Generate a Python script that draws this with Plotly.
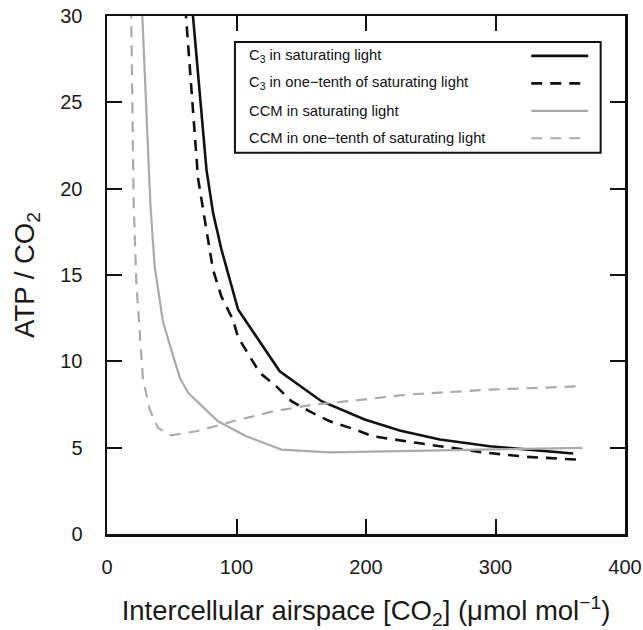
import plotly.graph_objects as go

# ---- data ----
c3_sat_x = [65.8, 76.8, 81.9, 88.3, 101.2, 133.4, 165.6, 199, 226, 257, 295.5, 334, 360]
c3_sat_y = [30.5, 21.1, 18.6, 16.5, 13.0, 9.42, 7.69, 6.63, 6.0, 5.47, 5.08, 4.85, 4.66]

c3_low_x = [60.5, 70.3, 76.8, 81.9, 88.3, 97.3, 101.2, 118, 130.8, 142.4, 156.5, 172, 190,
            205.4, 238.9, 264.6, 290.3, 323.9, 362.5]
c3_low_y = [30.5, 20.6, 17.6, 15.3, 13.76, 12.4, 11.4, 9.33, 8.55, 7.69, 7.1, 6.53, 6.09,
            5.66, 5.28, 4.99, 4.73, 4.47, 4.31]

ccm_sat_x = [27.0, 33.5, 36.8, 43.2, 51.5, 56.5, 63.0, 85.7, 107.6, 134.7, 172, 282.6, 367]
ccm_sat_y = [30.5, 19.1, 15.5, 12.3, 10.2, 9.0, 8.15, 6.53, 5.66, 4.89, 4.73, 4.89, 4.99]

ccm_low_x = [18.6, 20.6, 22.7, 25.3, 27.8, 29.1, 33, 39.4, 49.7, 69, 97.3, 128.2, 159,
             192.6, 231, 295.5, 362.5]
ccm_low_y = [30.5, 19.1, 14.5, 11.6, 8.94, 8.55, 7.2, 6.14, 5.72, 5.95, 6.53, 7.1, 7.49,
             7.74, 8.07, 8.36, 8.55]

x_ticks = [0, 100, 200, 300, 400]
y_ticks = [0, 5, 10, 15, 20, 25, 30]

labels = [
    "C<sub>3</sub> in saturating light",
    "C<sub>3</sub> in one\u2212tenth of saturating light",
    "CCM in saturating light",
    "CCM in one\u2212tenth of saturating light",
]

BLACK = "#111111"
GREY = "#aaaaaa"
FONT = "Liberation Sans, Arial, sans-serif"

styles = [
    dict(color=BLACK, width=2.6, dash="solid"),
    dict(color=BLACK, width=2.6, dash="11px,8px"),
    dict(color=GREY, width=2.2, dash="solid"),
    dict(color=GREY, width=2.2, dash="11px,8px"),
]

series = [
    (c3_sat_x, c3_sat_y),
    (c3_low_x, c3_low_y),
    (ccm_sat_x, ccm_sat_y),
    (ccm_low_x, ccm_low_y),
]

fig = go.Figure()
for (xs, ys), name, st in zip(series, labels, styles):
    fig.add_trace(go.Scatter(x=xs, y=ys, mode="lines", name=name, line=st,
                             showlegend=False, hoverinfo="skip"))

# ---- manual legend box (text left, line sample right) ----
box_x0, box_x1 = 0.247, 0.953
box_y0, box_y1 = 0.736, 0.950
row_y = [0.923, 0.870, 0.817, 0.764]
text_x = 0.270
samp_x0, samp_x1 = 0.819, 0.929

shapes = [dict(type="rect", xref="paper", yref="paper", x0=box_x0, x1=box_x1,
               y0=box_y0, y1=box_y1, line=dict(color=BLACK, width=2),
               fillcolor="white", layer="above")]
annotations = []
for ry, name, st in zip(row_y, labels, styles):
    shapes.append(dict(type="line", xref="paper", yref="paper", x0=samp_x0, x1=samp_x1,
                       y0=ry, y1=ry, line=st, layer="above"))
    annotations.append(dict(xref="paper", yref="paper", x=text_x, y=ry, text=name,
                            showarrow=False, xanchor="left", yanchor="middle",
                            font=dict(family=FONT, size=14.8, color=BLACK)))

axis_common = dict(
    automargin=False,
    showgrid=False, zeroline=False, showline=True, linecolor=BLACK, linewidth=2.5,
    mirror="ticks", ticks="inside", ticklen=15, tickwidth=2, tickcolor=BLACK,
    tickfont=dict(family=FONT, size=20, color="#1a1a1a"),
)

fig.update_layout(
    width=643, height=630,
    margin=dict(l=107, r=18, t=16, b=96),
    paper_bgcolor="white", plot_bgcolor="white",
    font=dict(family=FONT, color="#1a1a1a"),
    xaxis=dict(range=[0, 400], tickvals=x_ticks, ticklabelstandoff=13,
               title=dict(text="Intercellular airspace [CO<sub>2</sub>] (\u03bcmol mol<sup>\u22121</sup>)",
                          font=dict(family=FONT, size=27.5), standoff=27),
               **axis_common),
    yaxis=dict(range=[0, 30], tickvals=y_ticks, ticklabelstandoff=18,
               title=dict(text="ATP / CO<sub>2</sub>", font=dict(family=FONT, size=27.5),
                          standoff=18),
               **axis_common),
    shapes=shapes,
    annotations=annotations,
)

fig.write_html("out.html",
               config={"displayModeBar": False, "staticPlot": True},
               post_script="document.body.style.margin='0';document.body.style.overflow='hidden';")
